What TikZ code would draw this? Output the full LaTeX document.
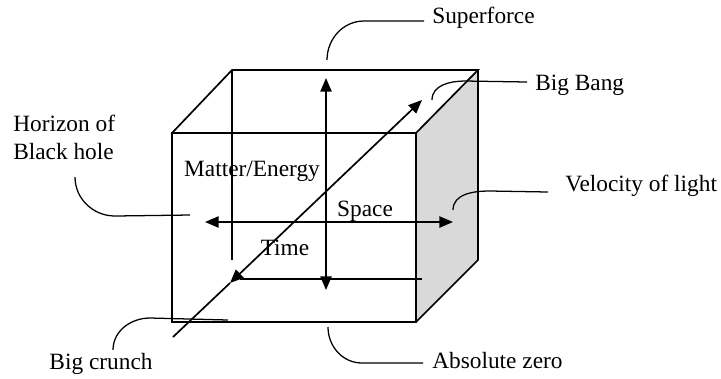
\documentclass[tikz,border=0pt]{standalone}
\usepackage{fontspec}
\setmainfont{Liberation Serif}
\usetikzlibrary{arrows.meta}

\begin{document}
\begin{tikzpicture}[x=0.025cm, y=-0.025cm,
  edge/.style={line width=1.2pt},
  axis/.style={line width=1.2pt, {Triangle[length=3.4mm,width=2.8mm]}-{Triangle[length=3.4mm,width=2.8mm]}},
  callout/.style={line width=0.9pt},
  lbl/.style={inner sep=0pt, font=\fontsize{16.6}{20}\selectfont, align=left}
]
  \useasboundingbox (0,0) rectangle (721,378);

  % Cube corners
  \coordinate (fa) at (172,133);
  \coordinate (fb) at (416,133);
  \coordinate (fc) at (416,322);
  \coordinate (fd) at (172,322);
  \coordinate (ba) at (232,70);
  \coordinate (bb) at (478,70);
  \coordinate (bc) at (478,260);
  \coordinate (bd) at (232,260);

  % Cube
  \fill[gray!30] (fb) -- (bb) -- (bc) -- (fc) -- cycle;
  \draw[edge] (fa) -- (fb) -- (fc) -- (fd) -- cycle;
  \draw[edge] (fa) -- (ba) -- (bb) -- (fb);
  \draw[edge] (bb) -- (bc) -- (fc);
  \draw[edge] (ba) -- (bd);

  % Axes
  \coordinate (up) at (326,78);
  \coordinate (down) at (326,290);
  \coordinate (left) at (205,222);
  \coordinate (right) at (453,222);
  \coordinate (bang) at (422,100);
  \coordinate (crunch) at (230,283);
  \coordinate (tail) at (173,337);
  \coordinate (la) at (240,279);
  \coordinate (lb) at (422,279);
  \draw[axis] (down) -- (up);
  \draw[axis] (left) -- (right);
  \draw[axis] (crunch) -- (bang);
  \draw[edge] (tail) -- (crunch);
  \draw[edge] (la) -- (lb);

  % Inner labels
  \node[lbl] (matter) at (252,171) {Matter/Energy};
  \node[lbl] (space) at (365,211) {Space};
  \node[lbl] (time) at (285,248) {Time};

  % Outer labels
  \node[lbl, anchor=west] (superforce) at (432,18) {Superforce};
  \node[lbl, anchor=west] (bigbang) at (535,85) {Big Bang};
  \node[lbl, anchor=west] (velocity) at (565,186) {Velocity of light};
  \node[lbl, anchor=west] (horizon) at (13,137) {Horizon of\\Black hole};
  \node[lbl] (crunchlbl) at (101,364) {Big crunch};
  \node[lbl, anchor=west] (abszero) at (432,361) {Absolute zero};

  % Callouts
  \coordinate (sf) at (327,60);
  \coordinate (bg) at (432,100);
  \coordinate (vl) at (453,210);
  \coordinate (hz) at (190,215);
  \coordinate (bc2) at (228,320);
  \coordinate (az) at (328,327);
  \draw[callout] (superforce.west) ++(-8,3) -- ++(-60,0) to[out=180,in=90] (sf);
  \draw[callout] (bigbang.west) ++(-8,-3) -- ++(-62,-1) to[out=180,in=90] (bg);
  \draw[callout] (velocity.west) ++(-17,6) -- ++(-58,-1) to[out=180,in=90] (vl);
  \draw[callout] (75,177) to[out=-90,in=180] (115,216) -- (hz);
  \draw[callout] (113,350) to[out=90,in=180] (150,318) -- (bc2);
  \draw[callout] (az) to[out=-90,in=180] (362,363) -- (423,363);
\end{tikzpicture}
\end{document}
